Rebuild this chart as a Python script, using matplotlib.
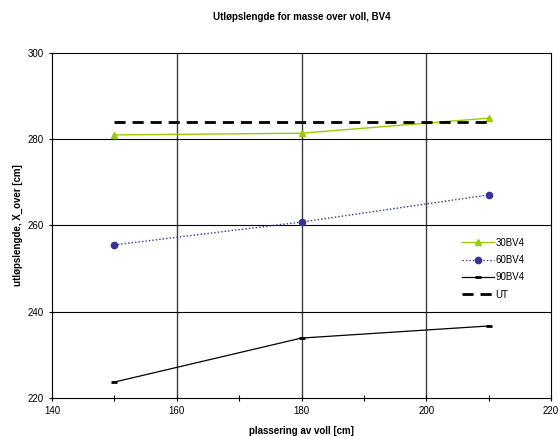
import matplotlib
matplotlib.use("Agg")
import matplotlib.pyplot as plt

plt.rcParams['font.family'] = ['Liberation Sans', 'DejaVu Sans']

x_pos = [150, 180, 210]
s30 = [281.0, 281.4, 284.9]
s60 = [255.5, 260.8, 267.1]
s90 = [223.7, 233.9, 236.7]
ut_x = [150, 210]
ut_y = [284.0, 284.0]

fig = plt.figure(figsize=(5.58, 4.36), dpi=100)
ax = fig.add_axes([52/558, 1-398/436, (551-52)/558, (398-53)/436])

ax.set_xlim(140, 220)
ax.set_ylim(220, 300)
ax.set_xticks([140, 160, 180, 200, 220])
ax.set_xticks([150, 170, 190, 210], minor=True)
ax.set_yticks([220, 240, 260, 280, 300])

for xv in [160, 180, 200]:
    ax.axvline(xv, color='#404040', lw=1.0, zorder=0)
for yv in [240, 260, 280]:
    ax.axhline(yv, color='black', lw=0.8, zorder=0)

ax.plot(x_pos, s30, color='#99CC00', lw=1.0, marker='^', ms=4.5, label='30BV4')
ax.plot(x_pos, s60, color='#333399', lw=1.0, ls=(0, (1, 1.5)), marker='o', ms=4.5, label='60BV4')
ax.plot(x_pos, s90, color='black', lw=0.9, marker='_', ms=5, mew=2, label='90BV4')
ax.plot(ut_x, ut_y, color='black', lw=2, ls=(0, (4, 2.5)), label='UT')

for sp in ax.spines.values():
    sp.set_linewidth(0.8)
ax.tick_params(axis='both', which='both', labelsize=7, direction='inout', length=5, width=0.8)
ax.tick_params(axis='x', which='minor', length=4)

ax.set_title('Utløpslengde for masse over voll, BV4', fontsize=7, fontweight='bold', pad=24)
ax.set_xlabel('plassering av voll [cm]', fontsize=7, fontweight='bold', labelpad=7)
ax.set_ylabel('utløpslengde, X_over [cm]', fontsize=7, fontweight='bold', labelpad=3)

leg = ax.legend(loc='upper left', bbox_to_anchor=(0.805, 0.49), frameon=False, fontsize=7,
                handlelength=3.2, labelspacing=0.75, handletextpad=0.2)

fig.savefig('out.png', dpi=100)
